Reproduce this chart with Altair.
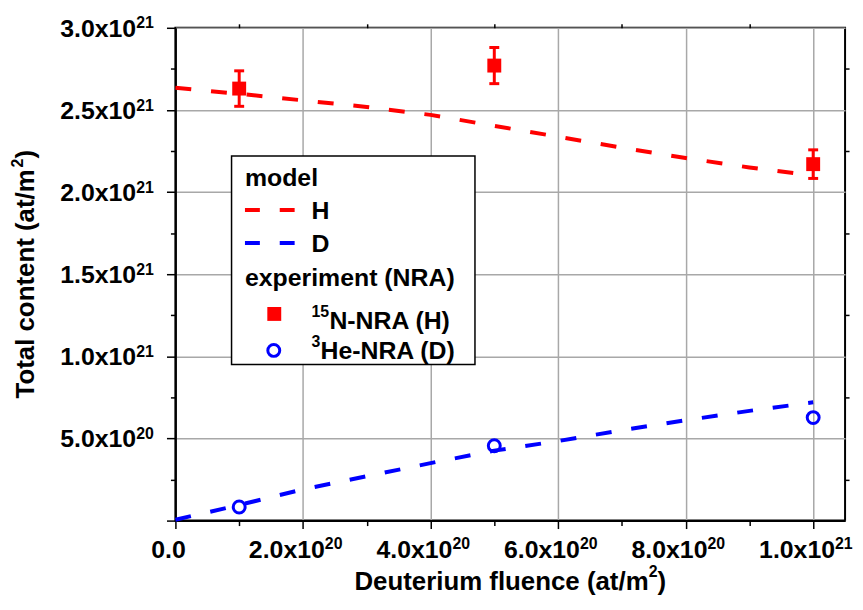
import altair as alt
import pandas as pd

# ---- data ----
x_model = [0, 1e20, 2e20, 3e20, 4e20, 5e20, 6e20, 7e20, 8e20, 9e20, 1e21]
h_model = [2.635e21, 2.598e21, 2.558e21, 2.518e21, 2.470e21, 2.403e21,
           2.337e21, 2.270e21, 2.207e21, 2.150e21, 2.100e21]
d_model = [0.005e21, 0.095e21, 0.190e21, 0.270e21, 0.350e21, 0.426e21,
           0.484e21, 0.550e21, 0.611e21, 0.668e21, 0.720e21]

x_exp = [1e20, 5e20, 1e21]
h_exp = [2.63e21, 2.77e21, 2.17e21]
h_err = [0.108e21, 0.110e21, 0.087e21]
d_exp = [0.083e21, 0.456e21, 0.627e21]

# tick positions and labels
x_ticks = [0, 1e20, 2e20, 3e20, 4e20, 5e20, 6e20, 7e20, 8e20, 9e20, 1e21]
y_ticks = [0, 0.25e21, 0.5e21, 0.75e21, 1.0e21, 1.25e21, 1.5e21, 1.75e21,
           2.0e21, 2.25e21, 2.5e21, 2.75e21, 3.0e21]
x_minor = [1e20, 3e20, 5e20, 7e20, 9e20]
y_minor = [0.25e21, 0.75e21, 1.25e21, 1.75e21, 2.25e21, 2.75e21]

x_lab_vals = [2e20, 4e20, 6e20, 8e20, 1e21]
x_lab_base = ["2.0x10", "4.0x10", "6.0x10", "8.0x10", "1.0x10"]
x_lab_sup = ["20", "20", "20", "20", "21"]
x_zero_label = "0.0"

y_lab_vals = [0.5e21, 1.0e21, 1.5e21, 2.0e21, 2.5e21, 3.0e21]
y_lab_base = ["5.0x10", "1.0x10", "1.5x10", "2.0x10", "2.5x10", "3.0x10"]
y_lab_sup = ["20", "21", "21", "21", "21", "21"]

x_title = ["Deuterium fluence (at/m", "2", ")"]
y_title = ["Total content (at/m", "2", ")"]

FONT = "Liberation Sans"
W, H = 674, 496
LAB_FS, SUP_FS = 25, 16
TITLE_FS = 26

model_df = pd.DataFrame({"x": x_model, "h": h_model, "d": d_model})
exp_df = pd.DataFrame({"x": x_exp, "h": h_exp, "err": h_err, "d": d_exp})
xlab_df = pd.DataFrame({"v": x_lab_vals, "base": x_lab_base, "sup": x_lab_sup})
ylab_df = pd.DataFrame({"v": y_lab_vals, "base": y_lab_base, "sup": y_lab_sup})
one = pd.DataFrame({"k": [0]})

xscale = alt.Scale(domain=[0, 1.05e21], nice=False, zero=False)
yscale = alt.Scale(domain=[0, 3.0e21], nice=False, zero=False)

x_major_test = "abs(datum.value/2e20 - round(datum.value/2e20)) < 1e-6"
y_major_test = "abs(datum.value/5e20 - round(datum.value/5e20)) < 1e-6"

x_axis = alt.Axis(
    values=x_ticks, labels=False, title=None,
    tickSize={"condition": {"test": x_major_test, "value": 8}, "value": 5},
    gridOpacity={"condition": {"test": x_major_test, "value": 1}, "value": 0},
)
y_axis = alt.Axis(
    values=y_ticks, labels=False, title=None,
    tickSize={"condition": {"test": y_major_test, "value": 9}, "value": 5},
    gridOpacity={"condition": {"test": y_major_test, "value": 1}, "value": 0},
)

DASH = [16, 20]

h_line = alt.Chart(model_df).mark_line(
    color="#ff0000", strokeWidth=4, strokeDash=DASH, strokeCap="butt"
).encode(
    x=alt.X("x:Q", scale=xscale, axis=x_axis),
    y=alt.Y("h:Q", scale=yscale, axis=y_axis),
)
d_line = alt.Chart(model_df).mark_line(
    color="#0000ff", strokeWidth=4, strokeDash=DASH, strokeCap="butt"
).encode(
    x=alt.X("x:Q", scale=xscale, axis=None),
    y=alt.Y("d:Q", scale=yscale, axis=None),
)

err_base = alt.Chart(exp_df).transform_calculate(
    lo="datum.h - datum.err", hi="datum.h + datum.err"
)
err_rule = err_base.mark_rule(color="#ff0000", strokeWidth=3).encode(
    x=alt.X("x:Q", scale=xscale, axis=None),
    y=alt.Y("lo:Q", scale=yscale, axis=None),
    y2="hi:Q",
)
cap_hi = err_base.mark_tick(color="#ff0000", orient="horizontal", size=10,
                            thickness=3, opacity=1).encode(
    x=alt.X("x:Q", scale=xscale, axis=None),
    y=alt.Y("hi:Q", scale=yscale, axis=None),
)
cap_lo = err_base.mark_tick(color="#ff0000", orient="horizontal", size=10,
                            thickness=3, opacity=1).encode(
    x=alt.X("x:Q", scale=xscale, axis=None),
    y=alt.Y("lo:Q", scale=yscale, axis=None),
)
h_pts = alt.Chart(exp_df).mark_square(color="#ff0000", size=196, opacity=1).encode(
    x=alt.X("x:Q", scale=xscale, axis=None),
    y=alt.Y("h:Q", scale=yscale, axis=None),
)
d_pts = alt.Chart(exp_df).mark_point(
    shape="circle", color="#0000ff", size=144, filled=False, strokeWidth=3, opacity=1
).encode(
    x=alt.X("x:Q", scale=xscale, axis=None),
    y=alt.Y("d:Q", scale=yscale, axis=None),
)

# mirrored minor ticks on top and right border
mirror = alt.Chart(model_df).mark_point(opacity=0).encode(
    x=alt.X("x:Q", scale=xscale, axis=alt.Axis(
        orient="top", values=x_minor, labels=False, title=None, grid=False,
        domain=False, tickSize=4)),
    y=alt.Y("h:Q", scale=yscale, axis=alt.Axis(
        orient="right", values=y_minor, labels=False, title=None, grid=False,
        domain=False, tickSize=4)),
)

# ---- tick labels with real superscripts ----
txt_style = dict(font=FONT, fontWeight="bold", color="black", baseline="alphabetic")

xl_base = alt.Chart(xlab_df).mark_text(align="right", dx=22, fontSize=LAB_FS, **txt_style).encode(
    x=alt.X("v:Q", scale=xscale, axis=None), y=alt.value(H + 38), text="base:N"
)
xl_sup = alt.Chart(xlab_df).mark_text(align="left", dx=22, fontSize=SUP_FS, **txt_style).encode(
    x=alt.X("v:Q", scale=xscale, axis=None), y=alt.value(H + 29), text="sup:N"
)
xl_zero = alt.Chart(pd.DataFrame({"v": [0], "t": [x_zero_label]})).mark_text(
    align="center", dx=-7, fontSize=LAB_FS, **txt_style
).encode(x=alt.X("v:Q", scale=xscale, axis=None), y=alt.value(H + 38), text="t:N")

yl_base = alt.Chart(ylab_df).mark_text(align="right", dy=9, fontSize=LAB_FS, **txt_style).encode(
    y=alt.Y("v:Q", scale=yscale, axis=None), x=alt.value(-39.5), text="base:N"
)
yl_sup = alt.Chart(ylab_df).mark_text(align="left", dy=0.7, fontSize=SUP_FS, **txt_style).encode(
    y=alt.Y("v:Q", scale=yscale, axis=None), x=alt.value(-39.5), text="sup:N"
)


def deco_text(txt, x, y, fs, angle=0, align="left"):
    return alt.Chart(one).mark_text(
        text=txt, align=align, baseline="alphabetic", font=FONT,
        fontSize=fs, fontWeight="bold", color="black", angle=angle
    ).encode(x=alt.value(x), y=alt.value(y))


# ---- axis titles with a real superscript (Liberation Sans = Arial metrics) ----
xt_main_w = 11.391 * TITLE_FS
xt_sup_w = 0.556 * SUP_FS
xt_total = xt_main_w + xt_sup_w + 0.333 * TITLE_FS
xt_x0 = W / 2 - xt_total / 2
xt_base = H + 70.3
x_title_layers = [
    deco_text(x_title[0], xt_x0, xt_base, TITLE_FS),
    deco_text(x_title[1], xt_x0 + xt_main_w, xt_base - 14, SUP_FS),
    deco_text(x_title[2], xt_x0 + xt_main_w + xt_sup_w, xt_base, TITLE_FS),
]

yt_main_w = 8.945 * TITLE_FS
yt_total = yt_main_w + xt_sup_w + 0.333 * TITLE_FS
yt_y0 = H / 2 + yt_total / 2
yt_base = -142
y_title_layers = [
    deco_text(y_title[0], yt_base, yt_y0, TITLE_FS, angle=270),
    deco_text(y_title[1], yt_base - 11.5, yt_y0 - yt_main_w, SUP_FS, angle=270),
    deco_text(y_title[2], yt_base, yt_y0 - yt_main_w - xt_sup_w, TITLE_FS, angle=270),
]

# ---- legend (drawn as decoration) ----
LEG_FS = 25
leg_box = alt.Chart(one).mark_rect(fill="white", stroke="black", strokeWidth=1.5).encode(
    x=alt.value(56.5), x2=alt.value(301.5), y=alt.value(129), y2=alt.value(339)
)

leg_h = alt.Chart(one).mark_rule(color="#ff0000", strokeWidth=4, strokeDash=[15, 20]).encode(
    x=alt.value(70), x2=alt.value(120), y=alt.value(183.3)
)
leg_d = alt.Chart(one).mark_rule(color="#0000ff", strokeWidth=4, strokeDash=[15, 20]).encode(
    x=alt.value(70), x2=alt.value(120), y=alt.value(216.7)
)
leg_sq = alt.Chart(one).mark_square(color="#ff0000", size=196, opacity=1).encode(
    x=alt.value(99.5), y=alt.value(288)
)
leg_ci = alt.Chart(one).mark_point(shape="circle", color="#0000ff", size=144,
                                   filled=False, strokeWidth=3, opacity=1).encode(
    x=alt.value(99), y=alt.value(324.7)
)

legend_layers = [
    leg_box,
    deco_text("model", 70, 159, LEG_FS),
    leg_h, deco_text("H", 137, 192.3, LEG_FS),
    leg_d, deco_text("D", 137, 225.7, LEG_FS),
    deco_text("experiment (NRA)", 70, 260, LEG_FS),
    leg_sq, deco_text("15", 137, 291, SUP_FS), deco_text("N-NRA (H)", 155, 303, LEG_FS),
    leg_ci, deco_text("3", 137, 321, SUP_FS), deco_text("He-NRA (D)", 146, 333, LEG_FS),
]

chart = alt.layer(
    h_line, mirror, d_line, err_rule, cap_hi, cap_lo, h_pts, d_pts,
    xl_base, xl_sup, xl_zero, yl_base, yl_sup,
    *x_title_layers, *y_title_layers, *legend_layers
).resolve_axis(
    x="independent", y="independent"
).properties(
    width=W, height=H,
    autosize=alt.AutoSizeParams(type="none"),
    padding={"left": 168.5, "top": 18, "right": 10, "bottom": 80},
).configure_view(
    stroke="black", strokeWidth=2
).configure_axis(
    domainColor="black", domainWidth=2, tickColor="black", tickWidth=1.5,
    gridColor="#a8a8a8", gridWidth=1.5,
)

chart.save("out.html", embed_options={"renderer": "svg", "actions": False})
